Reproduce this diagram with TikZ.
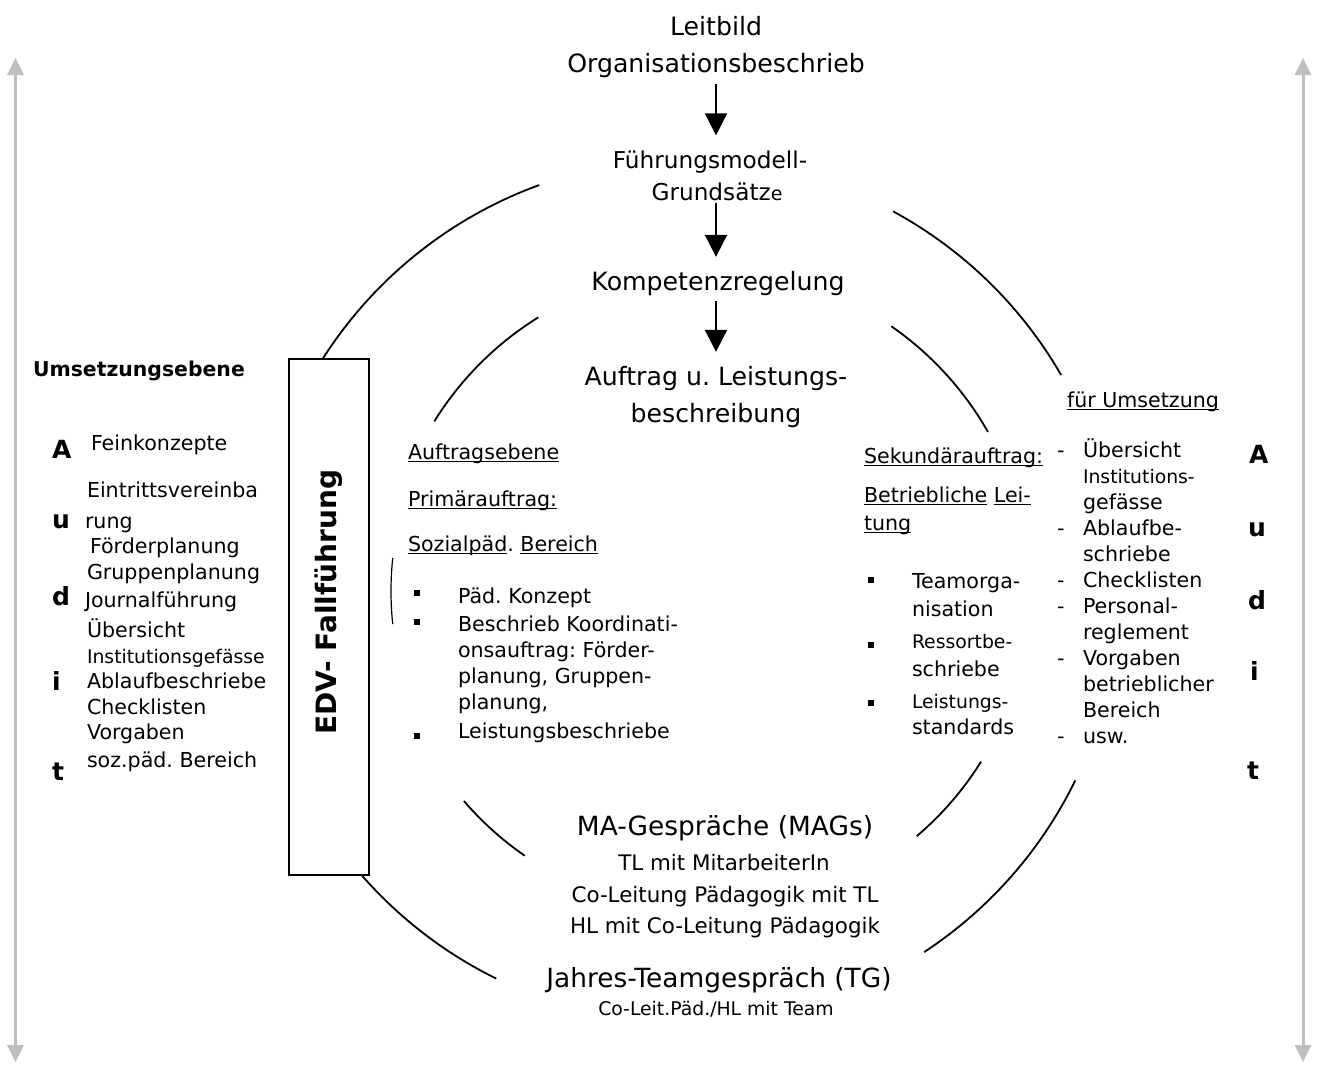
\documentclass[tikz,border=0pt]{standalone}
\usepackage{fontspec}
\setmainfont{DejaVu Sans}
\usetikzlibrary{arrows.meta}
\frenchspacing
\newcommand{\ulin}[1]{\underline{\smash{#1}}}
\tikzset{
  every node/.style={
    inner sep=0pt,
    outer sep=0pt
  },
  bigtext/.style={font=\fontsize{12.6}{15}\selectfont},
  bigtextb/.style={font=\fontsize{13.2}{15}\selectfont},
  midtext/.style={font=\fontsize{11.6}{14}\selectfont},
  txt/.style={font=\fontsize{10.3}{13}\selectfont},
  magtext/.style={font=\fontsize{10.7}{13}\selectfont},
  smalltext/.style={font=\fontsize{9.4}{11}\selectfont},
  boldtext/.style={font=\bfseries\fontsize{10.2}{12}\selectfont},
  audit/.style={font=\bfseries\fontsize{12.5}{14}\selectfont, anchor=base west},
  flowarrow/.style={
    -{Triangle[width=11pt,length=11pt]},
    line width=0.9pt
  },
  sidearrow/.style={
    {Triangle[width=8pt,length=8.5pt]}-{Triangle[width=8pt,length=8.5pt]},
    line width=1.5pt,
    draw=black!25
  },
  ring/.style={line width=0.9pt},
  bullet/.style={fill, minimum size=2.6pt}
}

\begin{document}
\begin{tikzpicture}[x=0.5pt, y=-0.5pt]
  \useasboundingbox (0,0) rectangle (1317,1066);

  % gray audit arrows
  \coordinate (ltop) at (15.5,58);
  \coordinate (lbot) at (15.5,1062);
  \coordinate (rtop) at (1303,58);
  \coordinate (rbot) at (1303,1062);
  \draw[sidearrow] (lbot) -- (ltop);
  \draw[sidearrow] (rbot) -- (rtop);

  % circles
  \coordinate (cout) at (687,591);
  \coordinate (cin) at (708,591);
  \draw[ring] ([shift={(110:216pt)}]cout) arc[start angle=110, end angle=148, radius=216pt];
  \draw[ring] ([shift={(220.8:216pt)}]cout) arc[start angle=220.8, end angle=243.8, radius=216pt];
  \draw[ring] ([shift={(61.5:216pt)}]cout) arc[start angle=61.5, end angle=30, radius=216pt];
  \draw[ring] ([shift={(-26:216pt)}]cout) arc[start angle=-26, end angle=-56.7, radius=216pt];
  \draw[ring] ([shift={(121.8:161pt)}]cin) arc[start angle=121.8, end angle=148.2, radius=161pt];
  \draw[ring, line width=0.6pt] ([shift={(174:158.5pt)}]cin) arc[start angle=174, end angle=186, radius=158.5pt];
  \draw[ring] ([shift={(220.7:161pt)}]cin) arc[start angle=220.7, end angle=235.3, radius=161pt];
  \draw[ring] ([shift={(-49.6:161pt)}]cin) arc[start angle=-49.6, end angle=-32, radius=161pt];
  \draw[ring] ([shift={(55.3:161pt)}]cin) arc[start angle=55.3, end angle=29.6, radius=161pt];

  % EDV box
  \node[draw, line width=0.9pt, fill=white, minimum width=40pt, minimum height=258pt,
    anchor=north west] (edvbox) at (289,359) {};
  \node[rotate=90, font=\bfseries\fontsize{14}{16}\selectfont] (edv) at (329,602) {EDV- Fallführung};

  % central chain
  \node[bigtext, anchor=base] (leitbild) at (716,35) {Leitbild};
  \node[bigtext, anchor=base] (orga) at (716,72) {Organisationsbeschrieb};
  \node[midtext, anchor=base] (fuehr) at (710,168) {Führungsmodell-};
  \node[midtext, anchor=base] (grund) at (717,200) {Grundsätz{\fontsize{9.5}{11}\selectfont e}};
  \node[bigtext, anchor=base] (komp) at (718,290) {Kompetenzregelung};
  \node[bigtext, anchor=base] (auftr) at (716,385) {Auftrag u. Leistungs-};
  \node[bigtext, anchor=base] (beschr) at (716,422) {beschreibung};
  \draw[flowarrow, shorten <=3.5pt, shorten >=7.5pt] (orga.south) -- (orga.south |- fuehr.north);
  \draw[flowarrow, shorten <=1.2pt, shorten >=7pt] (grund.south -| orga.south) -- (orga.south |- komp.north);
  \draw[flowarrow, shorten <=3pt, shorten >=7pt] (komp.south -| orga.south) -- (orga.south |- auftr.north);

  % left: Umsetzungsebene
  \node[boldtext, anchor=base west] (umsetz) at (33,376) {Umsetzungsebene};
  \node[txt, anchor=base west] (feink) at (91,450) {Feinkonzepte};
  \node[txt, anchor=base west] (eintr1) at (87,497) {Eintrittsvereinba};
  \node[txt, anchor=base west] (eintr2) at (85,528) {rung};
  \node[txt, anchor=base west] (foerd) at (90,553) {Förderplanung};
  \node[txt, anchor=base west] (grupp) at (87,579) {Gruppenplanung};
  \node[txt, anchor=base west] (journ) at (85,607) {Journalführung};
  \node[txt, anchor=base west] (uebers) at (87,637) {Übersicht};
  \node[smalltext, anchor=base west] (instit) at (87,663) {Institutionsgefässe};
  \node[txt, anchor=base west] (ablauf) at (87,688) {Ablaufbeschriebe};
  \node[txt, anchor=base west] (check) at (87,714) {Checklisten};
  \node[txt, anchor=base west] (vorg) at (87,739) {Vorgaben};
  \node[txt, anchor=base west] (sozpb) at (87,767) {soz.päd. Bereich};

  % Audit letters
  \node[audit] (la) at (52,458) {A};
  \node[audit] (lu) at (52,528) {u};
  \node[audit] (ld) at (52,605) {d};
  \node[audit] (li) at (52,690) {i};
  \node[audit] (lt) at (52,780) {t};
  \node[audit] (ra) at (1249,463) {A};
  \node[audit] (ru) at (1248,536) {u};
  \node[audit] (rd) at (1248,609) {d};
  \node[audit] (ri) at (1250,680) {i};
  \node[audit] (rt) at (1247,779) {t};

  % Auftragsebene
  \node[txt, anchor=base west] (auftrebene) at (408,459) {\ulin{Auftragsebene}};
  \node[txt, anchor=base west] (primaer) at (408,506) {\ulin{Primärauftrag:}};
  \node[txt, anchor=base west] (sozpaed) at (408,551) {\ulin{Sozialpäd}. \ulin{Bereich}};
  \node[bullet] (pb1) at (417,593) {};
  \node[bullet] (pb2) at (417,622) {};
  \node[bullet] (pb3) at (417,736) {};
  \node[txt, anchor=base west] (paed) at (458,603) {Päd. Konzept};
  \node[txt, anchor=base west] (koord1) at (458,631) {Beschrieb Koordinati-};
  \node[txt, anchor=base west] (koord2) at (458,657) {onsauftrag: Förder-};
  \node[txt, anchor=base west] (koord3) at (458,683) {planung, Gruppen-};
  \node[txt, anchor=base west] (koord4) at (458,709) {planung,};
  \node[txt, anchor=base west] (leist) at (458,738) {Leistungsbeschriebe};

  % Sekundaerauftrag
  \node[txt, anchor=base west] (sekund) at (864,463) {\ulin{Sekundärauftrag:}};
  \node[txt, anchor=base west] (betrieb) at (864,502) {\ulin{Betriebliche} \ulin{Lei-}};
  \node[txt, anchor=base west] (tung) at (864,530) {\ulin{tung}};
  \node[bullet] (sb1) at (871,580) {};
  \node[bullet] (sb2) at (871,645) {};
  \node[bullet] (sb3) at (871,703) {};
  \node[txt, anchor=base west] (teamorg1) at (912,588) {Teamorga-};
  \node[txt, anchor=base west] (teamorg2) at (912,616) {nisation};
  \node[smalltext, anchor=base west] (ressort1) at (912,648) {Ressortbe-};
  \node[txt, anchor=base west] (ressort2) at (912,676) {schriebe};
  \node[smalltext, anchor=base west] (lstd1) at (912,708) {Leistungs-};
  \node[txt, anchor=base west] (lstd2) at (912,734) {standards};

  % fuer Umsetzung
  \node[txt, anchor=base west] (fuerums) at (1067,407) {\ulin{für Umsetzung}};
  \node[txt, anchor=base west] (rd1) at (1057,457) {-};
  \node[txt, anchor=base west] (rd2) at (1057,535) {-};
  \node[txt, anchor=base west] (rd3) at (1057,587) {-};
  \node[txt, anchor=base west] (rd4) at (1057,613) {-};
  \node[txt, anchor=base west] (rd5) at (1057,665) {-};
  \node[txt, anchor=base west] (rd6) at (1057,743) {-};
  \node[txt, anchor=base west] (r1) at (1083,457) {Übersicht};
  \node[smalltext, anchor=base west] (r2) at (1083,483) {Institutions-};
  \node[txt, anchor=base west] (r3) at (1083,509) {gefässe};
  \node[txt, anchor=base west] (r4) at (1083,535) {Ablaufbe-};
  \node[txt, anchor=base west] (r5) at (1083,561) {schriebe};
  \node[txt, anchor=base west] (r6) at (1083,587) {Checklisten};
  \node[txt, anchor=base west] (r7) at (1083,613) {Personal-};
  \node[txt, anchor=base west] (r8) at (1083,639) {reglement};
  \node[txt, anchor=base west] (r9) at (1083,665) {Vorgaben};
  \node[txt, anchor=base west] (r10) at (1083,691) {betrieblicher};
  \node[txt, anchor=base west] (r11) at (1083,717) {Bereich};
  \node[txt, anchor=base west] (r12) at (1083,743) {usw.};

  % Gespraeche
  \node[bigtextb, anchor=base] (mag) at (725,835) {MA-Gespräche (MAGs)};
  \node[magtext, anchor=base] (mag1) at (724,870) {TL mit MitarbeiterIn};
  \node[magtext, anchor=base] (mag2) at (725,902) {Co-Leitung Pädagogik mit TL};
  \node[magtext, anchor=base] (mag3) at (725,933) {HL mit Co-Leitung Pädagogik};
  \node[bigtextb, anchor=base] (tg) at (719,987) {Jahres-Teamgespräch (TG)};
  \node[smalltext, anchor=base] (tg1) at (716,1015) {Co-Leit.Päd./HL mit Team};
\end{tikzpicture}
\end{document}
